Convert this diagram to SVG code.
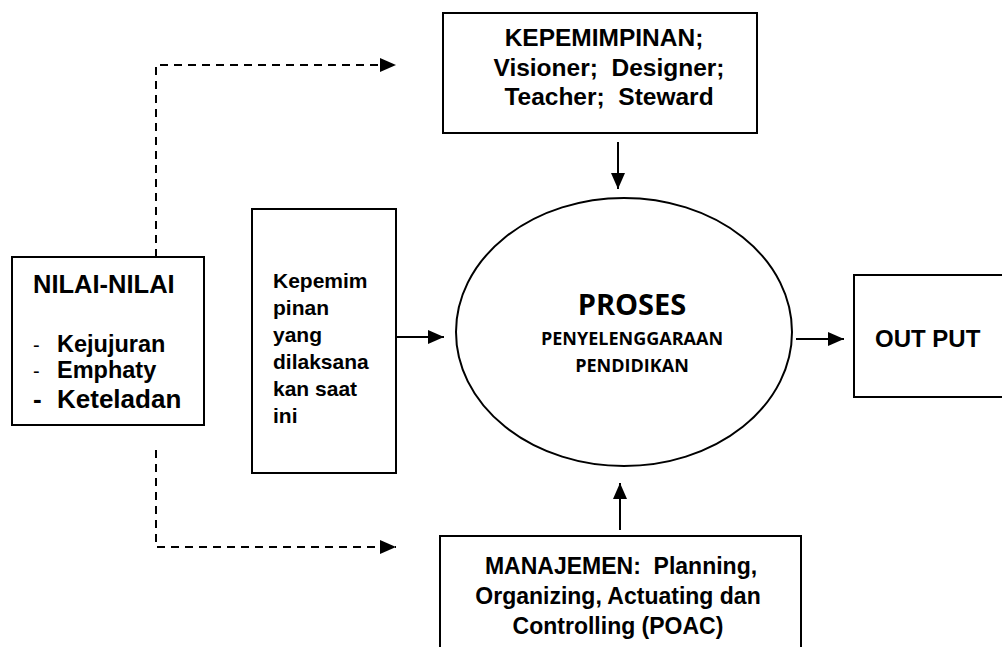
<svg xmlns="http://www.w3.org/2000/svg" width="1002" height="647" viewBox="0 0 1002 647">
<style>
.box{fill:#fff;stroke:#000;stroke-width:2}
.ln{fill:none;stroke:#000;stroke-width:2}
.dash{fill:none;stroke:#000;stroke-width:2;stroke-dasharray:8 6}
.t{font-family:"Liberation Sans",Arial,sans-serif;font-weight:bold;fill:#000}
.c{font-family:"Open Sans","Noto Sans",sans-serif;font-weight:bold;fill:#000;text-anchor:middle}
</style>
<defs>
<marker id="ah" markerUnits="userSpaceOnUse" markerWidth="16" markerHeight="16" refX="16" refY="8" orient="auto">
<path d="M0,1 L16,8 L0,15 z" fill="#000"/>
</marker>
</defs>
<rect width="1002" height="647" fill="#fff"/>
<g id="connectors">
<path class="dash" d="M156,257 V65 H396" marker-end="url(#ah)"/>
<path class="dash" d="M156,450 V547 H396" marker-end="url(#ah)"/>
<path class="ln" d="M396,337 H444" marker-end="url(#ah)"/>
<path class="ln" d="M796,339 H844" marker-end="url(#ah)"/>
<path class="ln" d="M618,142 V189" marker-end="url(#ah)"/>
<path class="ln" d="M620,530 V483" marker-end="url(#ah)"/>
</g>
<g id="nilai">
<rect class="box" x="12" y="257" width="192" height="168"/>
<text class="t" x="33" y="293" font-size="25.5">NILAI-NILAI</text>
<text x="33" y="352" font-family="Liberation Sans,Arial,sans-serif" font-size="20">-</text>
<text class="t" x="57" y="352" font-size="23.5">Kejujuran</text>
<text x="33" y="378" font-family="Liberation Sans,Arial,sans-serif" font-size="20">-</text>
<text class="t" x="57" y="378" font-size="23.5">Emphaty</text>
<text class="t" x="33" y="408" font-size="26">-</text>
<text class="t" x="57" y="408" font-size="26">Keteladan</text>
</g>
<g id="kepemim">
<rect class="box" x="252" y="209" width="144" height="264"/>
<text class="t" font-size="21"><tspan x="273" y="288">Kepemim</tspan><tspan x="273" y="315">pinan</tspan><tspan x="273" y="342">yang</tspan><tspan x="273" y="369">dilaksana</tspan><tspan x="273" y="396">kan saat</tspan><tspan x="273" y="423">ini</tspan></text>
</g>
<g id="kepemimpinan">
<rect class="box" x="443" y="13" width="314" height="120"/>
<text class="t" font-size="24.5" text-anchor="middle" xml:space="preserve"><tspan x="604" y="46">KEPEMIMPINAN;</tspan><tspan x="609" y="76">Visioner;  Designer;</tspan><tspan x="609" y="105">Teacher;  Steward</tspan></text>
</g>
<g id="proses">
<ellipse class="box" cx="624" cy="332" rx="168" ry="134"/>
<text class="c" x="632" y="315" font-size="29">PROSES</text>
<text class="c" x="632" y="345" font-size="18">PENYELENGGARAAN</text>
<text class="c" x="632" y="372" font-size="18">PENDIDIKAN</text>
</g>
<g id="output">
<rect class="box" x="854" y="275" width="160" height="122"/>
<text class="t" x="875" y="347" font-size="24">OUT PUT</text>
</g>
<g id="manajemen">
<rect class="box" x="440" y="536" width="361" height="120"/>
<text class="t" font-size="23" text-anchor="middle" xml:space="preserve"><tspan x="621" y="574">MANAJEMEN:  Planning,</tspan><tspan x="618" y="604">Organizing, Actuating dan</tspan><tspan x="618" y="634">Controlling (POAC)</tspan></text>
</g>
</svg>
